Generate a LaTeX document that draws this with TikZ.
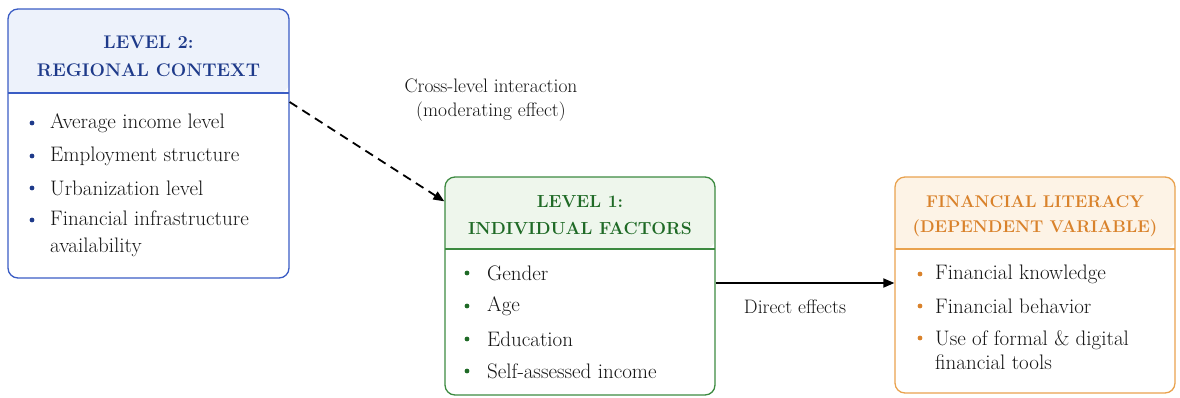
\documentclass[tikz,border=0pt]{standalone}
\usepackage{fontspec}
\setmainfont{Latin Modern Roman}
\usetikzlibrary{arrows.meta}
\definecolor{blueB}{HTML}{3A5CC4}
\definecolor{blueT}{HTML}{1E3A8A}
\definecolor{blueF}{HTML}{EDF2FB}
\definecolor{greenB}{HTML}{3C8A40}
\definecolor{greenT}{HTML}{1F6A26}
\definecolor{greenF}{HTML}{EEF6EC}
\definecolor{orangeB}{HTML}{E9A24E}
\definecolor{orangeT}{HTML}{D9822B}
\definecolor{orangeF}{HTML}{FDF3E6}
\definecolor{txt}{HTML}{151515}
\tikzset{
  box/.style={draw, line width=1.3pt, rounded corners=10pt, inner sep=0pt},
  ttl/.style={font=\fontsize{17.5}{27}\selectfont\bfseries, align=center},
  item/.style={font=\fontsize{21}{27}\selectfont, text=txt, anchor=west, inner sep=0pt, align=left},
  lbl/.style={font=\fontsize{19.5}{24}\selectfont, text=txt, align=center},
  arr/.style={line width=1.8pt, -{Triangle[length=11pt,width=9pt]}},
}
\newcommand{\bul}[3]{\fill[#1] (#2,#3) circle (2.4pt);}
\begin{document}
\begin{tikzpicture}[x=1pt,y=-1pt]
\useasboundingbox (0,0) rectangle (1180,397);
% box 1
\fill[blueF, rounded corners=10pt] (8,93) -- (8,9) -- (289,9) -- (289,93) {[sharp corners] -- cycle};
\node[box, draw=blueB, minimum width=281pt, minimum height=269pt] (b1) at (148.5,143.5) {};
\draw[blueB, line width=1.3pt] (8,93) -- (289,93);
\node[ttl, text=blueT, font=\fontsize{18.3}{28}\selectfont\bfseries] (t1) at (148.5,56) {LEVEL 2:\\REGIONAL CONTEXT};
\bul{blueT}{32}{123}\node[item] (a1) at (50,123) {Average income level};
\bul{blueT}{32}{156}\node[item] (a2) at (50,156) {Employment structure};
\bul{blueT}{32}{188}\node[item] (a3) at (50,188) {Urbanization level};
\bul{blueT}{32}{220}\node[item] (a4) at (50,233.5) {Financial infrastructure\\availability};
% box 2
\fill[greenF, rounded corners=10pt] (445,249) -- (445,177) -- (715,177) -- (715,249) {[sharp corners] -- cycle};
\node[box, draw=greenB, minimum width=270pt, minimum height=218pt] (b2) at (580,286) {};
\draw[greenB, line width=1.3pt] (445,249) -- (715,249);
\node[ttl, text=greenT] (t2) at (580,215) {LEVEL 1:\\INDIVIDUAL FACTORS};
\bul{greenT}{467}{273}\node[item] (c1) at (487,273) {Gender};
\bul{greenT}{467}{306}\node[item] (c2) at (487,306) {Age};
\bul{greenT}{467}{339}\node[item] (c3) at (487,339) {Education};
\bul{greenT}{467}{371}\node[item] (c4) at (487,371) {Self-assessed income};
% box 3
\fill[orangeF, rounded corners=10pt] (895,249) -- (895,177) -- (1175,177) -- (1175,249) {[sharp corners] -- cycle};
\node[box, draw=orangeB, minimum width=280pt, minimum height=216pt] (b3) at (1035,285) {};
\draw[orangeB, line width=1.3pt] (895,249) -- (1175,249);
\node[ttl, text=orangeT, font=\fontsize{17}{25}\selectfont\bfseries] (t3) at (1035,216) {FINANCIAL LITERACY\\(DEPENDENT VARIABLE)};
\bul{orangeT}{920}{274}\node[item] (d1) at (935,274) {Financial knowledge};
\bul{orangeT}{920}{306}\node[item] (d2) at (935,306) {Financial behavior};
\bul{orangeT}{920}{338}\node[item, font=\fontsize{21}{24.5}\selectfont] (d3) at (935,350) {Use of formal \& digital\\financial tools};
% arrows
\draw[arr, dash pattern=on 9pt off 6pt] ([yshift=41.5pt]b1.east) -- ([yshift=-25pt]b2.north west);
\draw[arr] ([yshift=3pt]b2.east) -- ([yshift=2pt]b3.west);
\node[lbl] (l1) at (491,100) {Cross-level interaction\\(moderating effect)};
\node[lbl] (l2) at (795,307) {Direct effects};
\end{tikzpicture}
\end{document}
